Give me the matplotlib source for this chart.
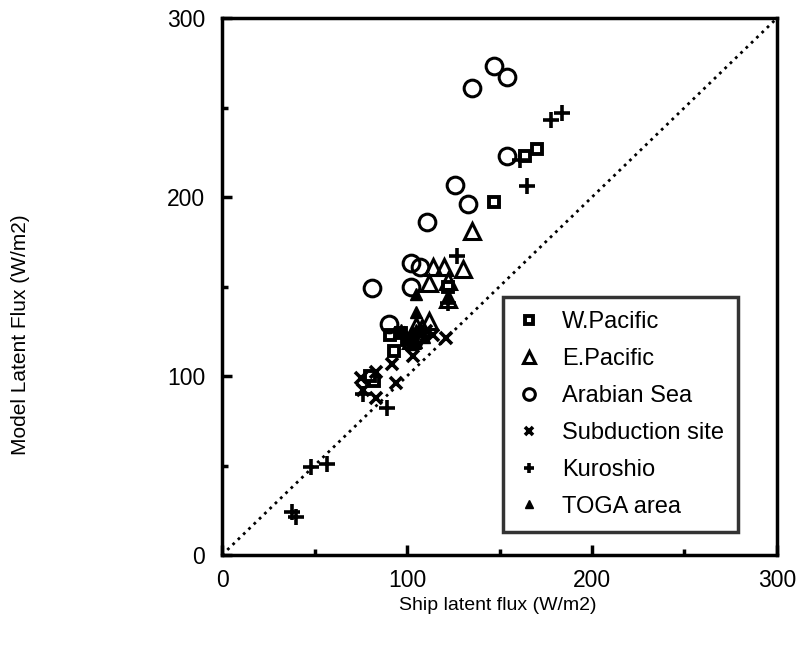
import numpy as np
import matplotlib
matplotlib.use("Agg")
import matplotlib.pyplot as plt
from matplotlib.ticker import MultipleLocator

plt.rcParams['font.family'] = ['Liberation Sans', 'DejaVu Sans']

# ship flux (x) vs model flux (y), W/m2
wpac_x = [170, 164, 147, 93, 82, 91, 122, 80, 97, 100]
wpac_y = [227, 223, 197, 114, 97, 123, 150, 100, 124, 120]

epac_x = [135, 130, 120, 114, 112, 122, 112, 108, 102, 122, 105]
epac_y = [181, 160, 161, 161, 152, 153, 131, 127, 120, 143, 128]

arab_x = [147, 154, 135, 154, 126, 133, 102, 107, 81, 102, 90, 111]
arab_y = [273, 267, 261, 223, 207, 196, 163, 161, 149, 150, 129, 186]

subd_x = [75, 83, 76, 83, 94, 92, 103, 114, 121, 96, 110, 105]
subd_y = [99, 102, 92, 88, 96, 107, 111, 123, 121, 124, 125, 120]

kuro_x = [38, 40, 48, 57, 76, 89, 122, 127, 161, 165, 178, 184]
kuro_y = [24, 21, 49, 51, 90, 82, 141, 167, 221, 206, 243, 247]

toga_x = [105, 105, 122, 97, 100, 103, 105, 107, 102, 105, 109]
toga_y = [146, 136, 144, 126, 122, 124, 126, 127, 118, 119, 122]


def main():
    fig = plt.figure(figsize=(8.05, 6.48), dpi=100)
    ax = fig.add_axes([0.2758, 0.1435, 0.6894, 0.8285])

    ax.plot([0, 300], [0, 300], color='black', linestyle=':', linewidth=2)

    ax.plot(wpac_x, wpac_y, linestyle='none', marker='s', markersize=7.5,
            markerfacecolor='white', markeredgecolor='black', markeredgewidth=2.8,
            label='W.Pacific')
    ax.plot(epac_x, epac_y, linestyle='none', marker='^', markersize=12,
            markerfacecolor='none', markeredgecolor='black', markeredgewidth=2.2,
            label='E.Pacific')
    ax.plot(arab_x, arab_y, linestyle='none', marker='o', markersize=12,
            markerfacecolor='none', markeredgecolor='black', markeredgewidth=2.2,
            label='Arabian Sea')
    ax.plot(subd_x, subd_y, linestyle='none', marker='x', markersize=8,
            color='black', markeredgewidth=2.6, label='Subduction site')
    ax.plot(kuro_x, kuro_y, linestyle='none', marker='+', markersize=11,
            color='black', markeredgewidth=2.6, label='Kuroshio')
    ax.plot(toga_x, toga_y, linestyle='none', marker='^', markersize=9,
            color='black', label='TOGA area')

    ax.set_xlim(0, 300)
    ax.set_ylim(0, 300)
    ax.xaxis.set_major_locator(MultipleLocator(100))
    ax.yaxis.set_major_locator(MultipleLocator(100))
    ax.xaxis.set_minor_locator(MultipleLocator(50))
    ax.yaxis.set_minor_locator(MultipleLocator(50))
    ax.tick_params(which='major', direction='in', length=7, width=2.5,
                   labelsize=16.5, pad=10)
    ax.tick_params(axis='y', which='major', pad=12)
    ax.tick_params(which='minor', direction='in', length=4, width=2.5)
    for s in ax.spines.values():
        s.set_linewidth(2.5)

    ax.set_xlabel('Ship latent flux (W/m2)', fontsize=14)
    ax.set_ylabel('Model Latent Flux (W/m2)', fontsize=15)
    ax.xaxis.set_label_coords(0.497, -0.078)
    ax.yaxis.set_label_coords(-0.346, 0.41)

    leg = ax.legend(loc='lower right', bbox_to_anchor=(0.93, 0.043), fontsize=17,
                    frameon=True, fancybox=False, edgecolor='black',
                    handlelength=1.0, handletextpad=0.9, labelspacing=0.63,
                    borderpad=0.6, borderaxespad=0, markerscale=0.7)
    leg.get_frame().set_linewidth(2.5)

    fig.savefig('out.png', dpi=100)


if __name__ == "__main__":
    main()
